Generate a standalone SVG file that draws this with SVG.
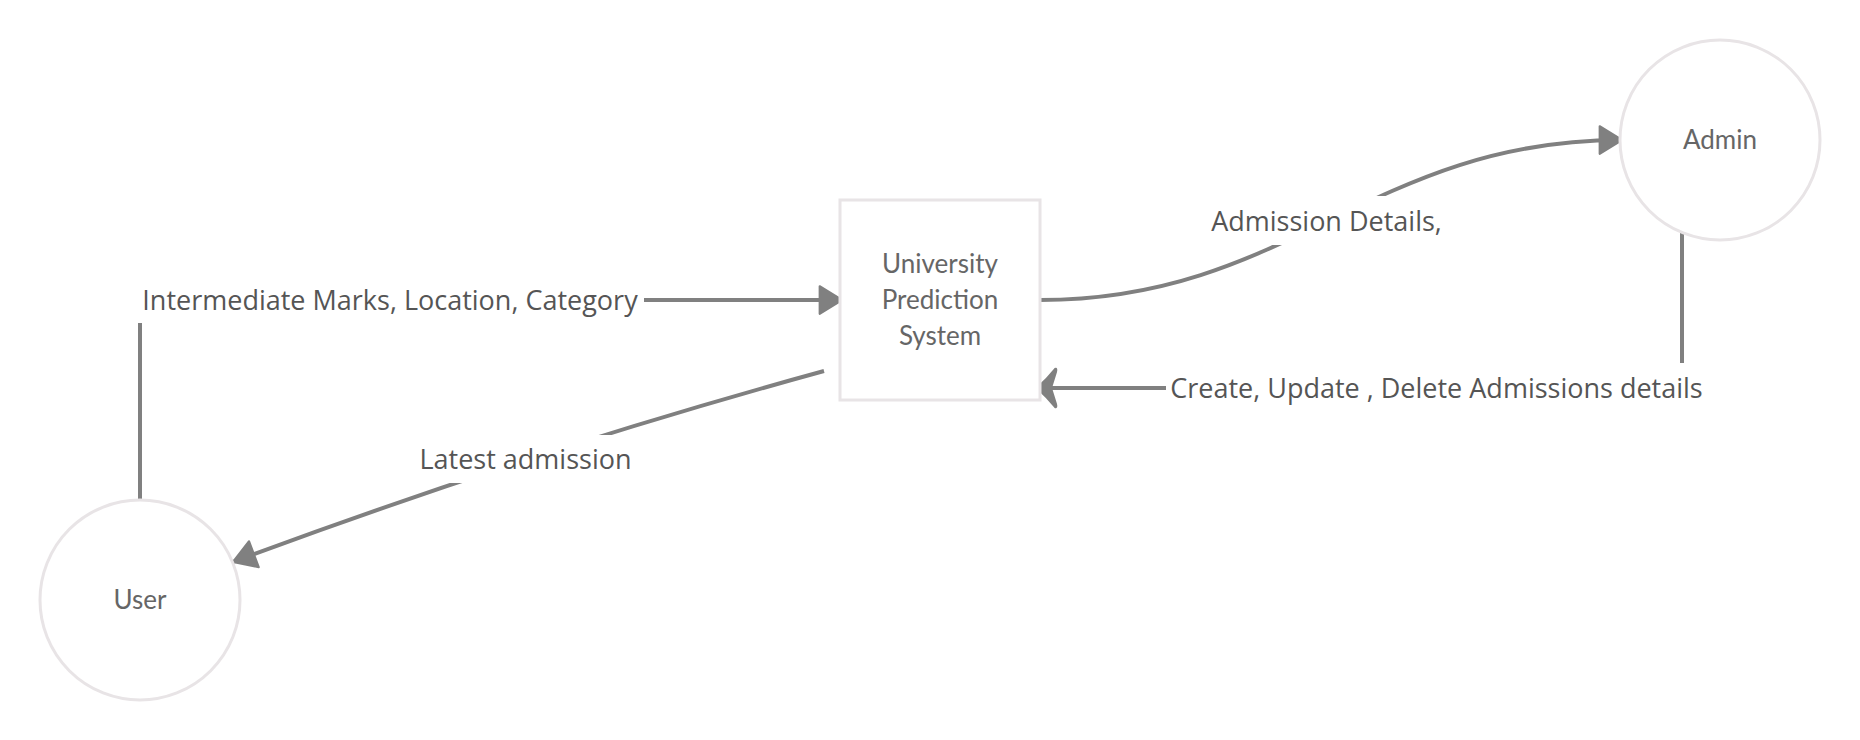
<svg xmlns="http://www.w3.org/2000/svg" width="1860" height="740" viewBox="0 0 1860 740">
<style>
.node{fill:#ffffff;stroke:#e8e4e6;stroke-width:3}
.ntext{font-family:Lato,"Liberation Sans",sans-serif;font-size:26px;fill:#666666;text-anchor:middle}
.conn{fill:none;stroke:#808080;stroke-width:4}
.lbg{fill:#ffffff}
.ltext{font-family:"Open Sans","Noto Sans","Liberation Sans",sans-serif;font-size:27px;fill:#555555;text-anchor:middle}
</style>
<defs>
<marker id="arrow" markerUnits="userSpaceOnUse" markerWidth="30" markerHeight="34" refX="22" refY="14" orient="auto" viewBox="-2 -2 28 32">
<path d="M1,1 L22,14 L1,27 Z" fill="#808080" stroke="#808080" stroke-width="2" stroke-linejoin="round"/>
</marker>
<marker id="barb" markerUnits="userSpaceOnUse" markerWidth="28" markerHeight="46" refX="20" refY="20" orient="auto" viewBox="-3 -3 28 46">
<path d="M20,20 Q10,11 2,1 Q0,0 1,4 L6,20 L1,36 Q0,40 2,39 Q10,29 20,20 Z" fill="#808080" stroke="#808080" stroke-width="2" stroke-linejoin="round"/>
</marker>
</defs>
<rect width="1860" height="740" fill="#ffffff"/>
<g id="connectors">
<path class="conn" d="M140,500 V300 H842" marker-end="url(#arrow)"/>
<path class="conn" d="M824,371 Q525,453 233,562" marker-end="url(#arrow)"/>
<path class="conn" d="M1040,300 C1290,300 1370,140 1622,140" marker-end="url(#arrow)"/>
<path class="conn" d="M1682,233 V388 H1037" marker-end="url(#barb)"/>
<g id="labels">
<rect class="lbg" x="134" y="277" width="510" height="46"/>
<text class="ltext" x="390" y="309.5">Intermediate Marks, Location, Category</text>
<rect class="lbg" x="412" y="435" width="228" height="48"/>
<text class="ltext" x="525.5" y="468.5">Latest admission</text>
<rect class="lbg" x="1200" y="196" width="252" height="49"/>
<text class="ltext" x="1326.5" y="230.5">Admission Details,</text>
<rect class="lbg" x="1166" y="363" width="542" height="48"/>
<text class="ltext" x="1436.5" y="397.5">Create, Update , Delete Admissions details</text>
</g>
</g>
<g id="node-system">
<rect class="node" x="840" y="200" width="200" height="200"/>
<text class="ntext" x="940" y="273">University</text>
<text class="ntext" x="940" y="309">Prediction</text>
<text class="ntext" x="940" y="345">System</text>
</g>
<g id="node-user">
<circle class="node" cx="140" cy="600" r="100"/>
<text class="ntext" x="140" y="609">User</text>
</g>
<g id="node-admin">
<circle class="node" cx="1720" cy="140" r="100"/>
<text class="ntext" x="1720" y="149">Admin</text>
</g>
</svg>
